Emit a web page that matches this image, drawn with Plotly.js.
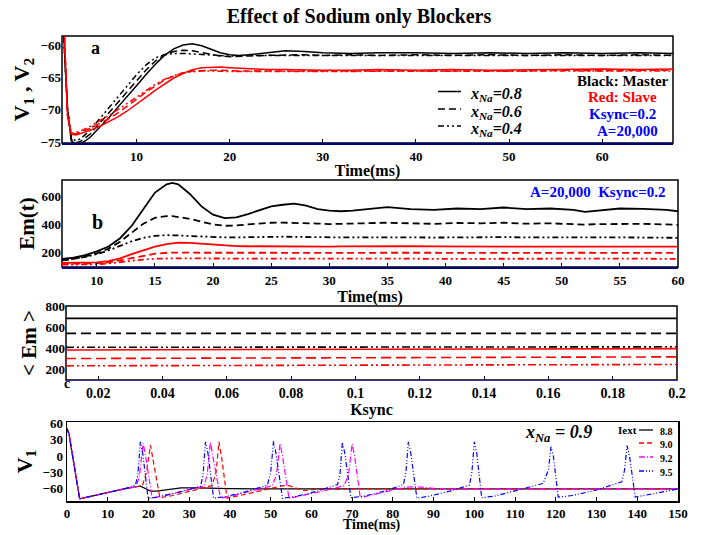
<!DOCTYPE html>
<html><head><meta charset="utf-8">
<script src="https://cdn.plot.ly/plotly-3.0.1.min.js"></script>
<style>html,body{margin:0;padding:0;background:#fff}#chart{width:704px;height:535px}</style>
</head><body><div id="chart"></div>
<script>
// ---------- Panel a : membrane potential V1 (master, black) & V2 (slave, red) ----------
const timeA = [2, 2.3, 2.6, 3, 3.5, 4, 5, 6, 7, 8, 9, 10, 11, 12, 13, 14, 15, 16, 17, 18, 19, 20, 21, 22, 24, 26, 28, 30, 33, 36, 40, 44, 48, 52, 56, 60, 64, 67.6];
const masterA08 = [-50, -62, -70, -74.8, -75.4, -75.3, -74.3, -72.8, -71.3, -69.6, -68.0, -66.3, -64.6, -63.0, -61.6, -60.6, -60.0, -59.8, -60.1, -60.7, -61.2, -61.5, -61.6, -61.5, -61.2, -60.9, -61.0, -61.2, -61.3, -61.2, -61.2, -61.3, -61.2, -61.3, -61.2, -61.3, -61.2, -61.3];
const masterA06 = [-50, -62, -70, -74.6, -75.1, -74.9, -73.8, -72.2, -70.6, -68.9, -67.2, -65.5, -63.9, -62.5, -61.5, -61.0, -60.8, -60.9, -61.2, -61.5, -61.7, -61.8, -61.8, -61.7, -61.6, -61.5, -61.5, -61.6, -61.5, -61.6, -61.5, -61.6, -61.5, -61.6, -61.5, -61.6, -61.5, -61.6];
const masterA04 = [-50, -62, -70, -74.4, -74.8, -74.5, -73.2, -71.5, -69.8, -68.0, -66.3, -64.6, -63.1, -62.0, -61.5, -61.3, -61.3, -61.4, -61.5, -61.6, -61.7, -61.7, -61.7, -61.6, -61.6, -61.6, -61.5, -61.6, -61.6, -61.5, -61.6, -61.6, -61.5, -61.6, -61.6, -61.5, -61.6, -61.6];
const slaveA08 = [-40, -60, -71, -73.8, -73.9, -73.7, -73.2, -72.6, -71.9, -71.1, -70.2, -69.2, -68.1, -67.0, -66.0, -65.1, -64.4, -63.8, -63.5, -63.4, -63.4, -63.5, -63.6, -63.7, -63.8, -63.8, -63.9, -63.9, -63.9, -63.8, -63.9, -63.8, -63.9, -63.8, -63.8, -63.7, -63.8, -63.7];
const slaveA06 = [-40, -60, -71, -73.7, -73.7, -73.5, -72.9, -72.2, -71.4, -70.5, -69.5, -68.4, -67.3, -66.3, -65.4, -64.8, -64.3, -64.0, -63.9, -63.9, -63.9, -64.0, -64.0, -64.0, -64.0, -64.1, -64.0, -64.0, -64.1, -64.0, -64.0, -64.0, -64.1, -64.0, -63.9, -64.0, -63.9, -63.9];
const slaveA04 = [-40, -60, -71, -73.6, -73.5, -73.3, -72.6, -71.8, -70.9, -70.0, -69.0, -68.0, -67.0, -66.1, -65.3, -64.7, -64.3, -64.1, -64.0, -64.0, -64.1, -64.1, -64.1, -64.1, -64.1, -64.0, -64.1, -64.1, -64.1, -64.0, -64.1, -64.1, -64.0, -64.1, -64.0, -64.1, -64.0, -64.0];
const legendA = ['x<sub>Na</sub>=0.8', 'x<sub>Na</sub>=0.6', 'x<sub>Na</sub>=0.4'];

// ---------- Panel b : Em(t) ----------
const timeB = [7, 8, 9, 10, 11, 12, 13, 14, 15, 16, 16.5, 17, 18, 19, 20, 21, 22, 23, 24, 25, 26, 27, 28, 29, 30, 31, 32, 33, 35, 37, 39, 41, 43, 45, 47, 49, 51, 52, 53, 55, 57, 59, 60];
const masterB08 = [150, 160, 178, 205, 240, 300, 390, 510, 630, 690, 700, 690, 620, 530, 470, 445, 450, 475, 505, 530, 542, 550, 535, 510, 500, 495, 500, 510, 525, 510, 505, 515, 510, 522, 510, 515, 505, 490, 500, 515, 512, 505, 495];
const masterB06 = [140, 150, 168, 190, 225, 275, 340, 405, 448, 460, 460, 455, 440, 420, 400, 390, 392, 400, 408, 412, 413, 412, 410, 406, 402, 404, 405, 404, 412, 408, 404, 410, 408, 412, 405, 408, 402, 398, 402, 405, 404, 400, 396];
const masterB04 = [140, 150, 165, 185, 212, 245, 278, 303, 317, 322, 322, 320, 316, 312, 308, 306, 306, 308, 309, 310, 311, 310, 308, 306, 305, 306, 306, 307, 308, 306, 305, 307, 308, 308, 306, 307, 305, 305, 304, 306, 305, 304, 303];
const slaveB08 = [122, 122, 123, 126, 135, 155, 185, 215, 240, 258, 264, 268, 266, 260, 252, 246, 243, 242, 241, 240, 242, 243, 242, 240, 240, 241, 242, 241, 240, 242, 241, 240, 241, 242, 240, 241, 240, 239, 240, 241, 242, 240, 240];
const slaveB06 = [115, 115, 116, 118, 125, 140, 158, 175, 188, 195, 196, 196, 196, 195, 194, 194, 194, 195, 195, 195, 196, 195, 195, 194, 194, 195, 195, 196, 195, 195, 194, 195, 196, 195, 195, 194, 195, 195, 194, 195, 196, 195, 194];
const slaveB04 = [109, 109, 110, 112, 118, 128, 138, 146, 152, 155, 155, 155, 154, 153, 152, 152, 152, 153, 153, 152, 152, 153, 152, 152, 151, 152, 152, 153, 152, 152, 151, 152, 152, 153, 152, 151, 152, 152, 151, 152, 152, 151, 150];

// ---------- Panel c : <Em> versus Ksync ----------
const ksync = [0.01, 0.05, 0.1, 0.15, 0.2];
const masterC08 = [683, 683, 683, 683, 683];
const masterC06 = [541, 541, 541, 541, 541];
const masterC04 = [409, 410, 412, 413, 414];
const slaveC08 = [384, 387, 391, 394, 397];
const slaveC06 = [303, 306, 311, 315, 319];
const slaveC04 = [234, 237, 241, 244, 247];

// ---------- Panel d : V1 for several Iext, xNa = 0.9 ----------
const iextLabels = ['8.8', '9.0', '9.2', '9.5'];
const tIext88 = [0, 0.5, 3.1, 6, 10, 14, 17, 18, 19.5, 20.5, 22, 25, 28, 32, 40, 50, 70, 100, 150];
const vIext88 = [50, 40, -78, -73, -66, -60, -56, -55, -60, -64, -64, -61, -58, -58, -59.5, -60, -60, -60, -60];
const tIext90 = [0, 0.5, 3.1, 6, 10, 14, 17, 18.5, 19.5, 20.5, 21.2, 22.8, 26, 30, 34, 35.6, 36.6, 37.3, 38, 39.3, 43, 48, 53, 54.5, 56, 58, 61, 70, 100, 150];
const vIext90 = [50, 40, -78, -73, -66, -60, -56, -54, -30, 20, -10, -76, -72, -65, -58, -54, -30, 26, -5, -77, -71, -62, -54, -54, -58, -63, -61, -60, -60, -60];
const tIext92 = [0, 0.5, 3.1, 6, 10, 14, 17, 17.8, 18.7, 19.3, 20.9, 25, 30, 33.6, 34.4, 35.2, 35.8, 37.7, 42, 47, 50.4, 51.4, 52.3, 52.9, 54.5, 59, 64, 68, 69.1, 70, 70.6, 72, 78, 83, 86, 90, 95, 150];
const vIext92 = [50, 40, -78, -73, -66, -60, -56, -35, 23, 0, -77, -70, -62, -55, -35, 25, 0, -77, -70, -61, -54, -35, 23, 0, -77, -70, -62, -54, -35, 22, 0, -76, -66, -57, -56, -59, -60, -60];
const tIext95 = [0, 0.5, 3.1, 6, 10, 14, 16.8, 17.4, 18.0, 18.6, 19.9, 22, 27, 32.8, 33.4, 34.0, 34.6, 36.0, 39, 44, 49.2, 50.0, 50.7, 51.3, 52.9, 56, 61, 66.4, 67.0, 67.6, 68.2, 69.7, 73, 78, 82.6, 83.2, 83.8, 84.4, 85.9, 89, 94, 98.8, 99.4, 100.0, 100.6, 101.8, 105, 111, 116.9, 118.2, 118.8, 119.4, 120.6, 124, 130, 136.2, 136.9, 137.5, 138.1, 139.5, 143, 150];
const vIext95 = [50, 40, -78, -73, -66, -60, -53, -35, 26, 5, -77, -75, -67, -55, -35, 26, 5, -77, -74, -65, -53, -30, 27, 5, -77, -74, -65, -52, -35, 25, 5, -76, -73, -64, -52, -30, 26, 5, -77, -73, -64, -53, -30, 26, 5, -76, -73, -62, -50, -25, 17, 0, -75, -72, -62, -47, -25, 19, 0, -75, -70, -60];

// ---------- styling ----------
const W = 704, H = 535;
const FONT = 'Liberation Serif, Times New Roman, serif';
const BLACK = '#000000', RED = '#ff0000', BLUE = '#0000ff', MAG = '#ff00ff', NAVY = '#000080';
const DASH = ['solid', '7px,4px', '6px,3px,2px,3px,2px,3px'];
const px = (x) => x / W;
const py = (y) => 1 - y / H;

const traces = [];
function line(x, y, xa, ya, color, dash, width, name) {
  return {x, y, xaxis: xa, yaxis: ya, mode: 'lines', type: 'scatter', name: name || '',
    line: {color, dash, width}, showlegend: false, hoverinfo: 'skip'};
}
// panel a
[masterA08, masterA06, masterA04].forEach((v, i) => traces.push(line(timeA, v, 'x', 'y', BLACK, DASH[i], 1.5, legendA[i])));
[slaveA08, slaveA06, slaveA04].forEach((v, i) => traces.push(line(timeA, v, 'x', 'y', RED, DASH[i], 1.5)));
// panel b
[masterB08, masterB06, masterB04].forEach((v, i) => traces.push(line(timeB, v, 'x2', 'y2', BLACK, DASH[i], 1.8)));
[slaveB08, slaveB06, slaveB04].forEach((v, i) => traces.push(line(timeB, v, 'x2', 'y2', RED, DASH[i], 1.8)));
// panel c
const DASHC = ['solid', '10px,5px', '8px,3px,2px,3px,2px,3px'];
[masterC08, masterC06, masterC04].forEach((v, i) => traces.push(line(ksync, v, 'x3', 'y3', BLACK, DASHC[i], 1.6)));
[slaveC08, slaveC06, slaveC04].forEach((v, i) => traces.push(line(ksync, v, 'x3', 'y3', RED, DASHC[i], 1.6)));
// panel d
const DCOL = [BLACK, RED, MAG, BLUE];
const DDASH = ['solid', '5px,3px', '6px,2px,1px,2px', '5px,2px,1px,2px,1px,2px'];
[[tIext88, vIext88], [tIext90, vIext90], [tIext92, vIext92], [tIext95, vIext95]].forEach((s, i) =>
  traces.push(line(s[0], s[1], 'x4', 'y4', DCOL[i], DDASH[i], 1.2, iextLabels[i])));

const tickFont = (s) => ({family: FONT, size: s || 13, color: '#000', weight: 'bold'});
const titleFont = (s) => ({family: FONT, size: s, color: '#000', weight: 'bold'});
function xax(dom, range, dtick, title, anchor, lineColor, lw, mirror, tsize) {
  return {domain: dom, range, dtick, tick0: 0, anchor, showgrid: false, zeroline: false,
    showline: true, linecolor: lineColor, linewidth: lw, mirror: mirror,
    ticks: 'inside', ticklen: 4, tickcolor: '#000', tickfont: tickFont(tsize), automargin: false,
    title: {text: title, font: titleFont(16), standoff: 2}};
}
function yax(dom, range, dtick, title, anchor, size, mirror, standoff) {
  return {domain: dom, range, dtick, tick0: 0, anchor, showgrid: false, zeroline: false,
    showline: mirror, linecolor: '#000', linewidth: 1.5, mirror: mirror,
    ticks: '', tickfont: tickFont(13), automargin: false,
    title: {text: title, font: titleFont(size), standoff: standoff}};
}

// legend samples and labels (drawn as paper-anchored shapes + annotations)
const legendShapes = [];
const legendNotes = [];
[91.5, 109, 126].forEach((y, i) => {
  legendShapes.push({type: 'line', xref: 'paper', yref: 'paper', x0: px(438), x1: px(461), y0: py(y), y1: py(y),
    line: {color: BLACK, width: 1.5, dash: DASH[i]}});
  legendNotes.push({text: '<i>' + legendA[i] + '</i>', x: px(469), y: py(y + 3), xanchor: 'left', size: 16});
});
legendNotes.push({text: 'Iext', x: px(627), y: py(430), size: 11});
[430, 443, 457, 471].forEach((y, i) => {
  legendShapes.push({type: 'line', xref: 'paper', yref: 'paper', x0: px(639), x1: px(653), y0: py(y), y1: py(y),
    line: {color: DCOL[i], width: 1.3, dash: DDASH[i]}});
  legendNotes.push({text: iextLabels[i], x: px(666), y: py(y + 1), size: 10});
});

const layout = {
  width: W, height: H, margin: {l: 0, r: 0, t: 0, b: 0, autoexpand: false},
  paper_bgcolor: '#fff', plot_bgcolor: '#fff', showlegend: false,
  font: {family: FONT, color: '#000'},
  title: {text: 'Effect of Sodium only Blockers', x: px(359), xanchor: 'center', y: py(16), yanchor: 'middle',
    font: titleFont(20)},
  xaxis: xax([px(62), px(673)], [2, 67.6], 10, 'Time(ms)', 'y', NAVY, 2, false),
  yaxis: yax([py(143), py(36)], [-75.15, -58.6], 5, 'V<sub>1</sub> , V<sub>2</sub>', 'x', 22, false, 4),
  xaxis2: xax([px(62), px(678)], [7, 60], 5, 'Time(ms)', 'y2', NAVY, 2, false),
  yaxis2: yax([py(267), py(180)], [92, 721], 200, 'Em(t)', 'x2', 21, false, 1),
  xaxis3: xax([px(66), px(677)], [0.01, 0.2], 0.02, 'Ksync', 'y3', '#3030a0', 1, false, 14),
  yaxis3: yax([py(380), py(306)], [100, 800], 200, '&lt; Em &gt;', 'x3', 21, false, 3),
  xaxis4: xax([px(67), px(678)], [0, 150], 10, '', 'y4', '#000', 1.5, true, 13),
  yaxis4: yax([py(501), py(422)], [-82, 62], 30, 'V<sub>1</sub>', 'x4', 22, true, 4),
  shapes: ['', '2', '3'].map(k => ({type: 'rect', xref: 'x' + k + ' domain', yref: 'y' + k + ' domain',
    x0: 0, x1: 1, y0: 0, y1: 1, line: {color: '#000', width: 1.5}, layer: 'below'})).concat(legendShapes),
  annotations: [
    {text: 'a', x: px(95), y: py(48)},
    {text: 'b', x: px(97), y: py(222), size: 20},
    {text: 'c', x: px(67), y: py(383), size: 14},
    {text: 'Black: Master', x: px(670), y: py(81), xanchor: 'right', size: 15},
    {text: 'Red: Slave', x: px(622), y: py(97.5), size: 15, color: RED},
    {text: 'Ksync=0.2', x: px(622), y: py(114), size: 15, color: BLUE},
    {text: 'A=20,000', x: px(627), y: py(130.5), size: 15, color: BLUE},
    {text: 'A=20,000&nbsp;&nbsp;Ksync=0.2', x: px(597), y: py(192), size: 15, color: BLUE},
    {text: '<i>x<sub>Na</sub> = 0.9</i>', x: px(558), y: py(433), size: 18},
    {text: 'Time(ms)', x: px(372), y: py(534), size: 14, yanchor: 'bottom'}
  ].concat(legendNotes).map(a => ({text: a.text, x: a.x, y: a.y, xref: 'paper', yref: 'paper', showarrow: false,
    xanchor: a.xanchor || 'center', yanchor: a.yanchor || 'middle', borderpad: 0,
    font: {family: FONT, size: a.size || 18, weight: 'bold', color: a.color || '#000'}}))
};

Plotly.newPlot('chart', traces, layout, {staticPlot: true, displayModeBar: false});
</script>
</body></html>
